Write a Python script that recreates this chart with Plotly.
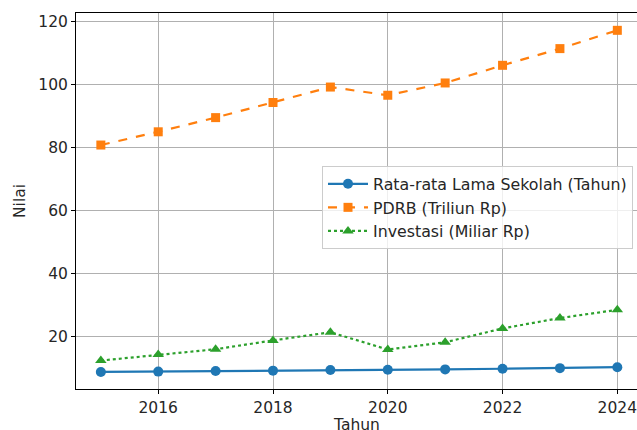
import plotly.graph_objects as go

tahun = [2015, 2016, 2017, 2018, 2019, 2020, 2021, 2022, 2023, 2024]
rata_lama_sekolah = [8.7, 8.8, 9.0, 9.1, 9.3, 9.4, 9.5, 9.7, 9.9, 10.2]
pdrb = [80.7, 84.9, 89.4, 94.2, 99.1, 96.5, 100.4, 106.0, 111.3, 117.1]
investasi = [12.3, 14.2, 15.9, 18.7, 21.3, 15.8, 18.1, 22.5, 25.8, 28.4]

x_ticks = [2016, 2018, 2020, 2022, 2024]
y_ticks = [20, 40, 60, 80, 100, 120]

fig = go.Figure()
fig.add_trace(go.Scatter(
    x=tahun, y=rata_lama_sekolah, mode="lines+markers",
    name="Rata-rata Lama Sekolah (Tahun)",
    line=dict(color="#1f77b4", width=2.2),
    marker=dict(symbol="circle", size=10, color="#1f77b4"),
))
fig.add_trace(go.Scatter(
    x=tahun, y=pdrb, mode="lines+markers",
    name="PDRB (Triliun Rp)",
    line=dict(color="#ff7f0e", width=2.2, dash="dash"),
    marker=dict(symbol="square", size=9, color="#ff7f0e"),
))
fig.add_trace(go.Scatter(
    x=tahun, y=investasi, mode="lines+markers",
    name="Investasi (Miliar Rp)",
    line=dict(color="#2ca02c", width=2.2, dash="dot"),
    marker=dict(symbol="triangle-up", size=10, color="#2ca02c"),
))

font = "DejaVu Sans, sans-serif"
fig.update_layout(
    width=637, height=430,
    margin=dict(l=76, r=0, t=13, b=41),
    paper_bgcolor="white", plot_bgcolor="white",
    font=dict(family=font, size=15.5, color="#262626"),
    showlegend=True,
    legend=dict(
        x=0.4385, y=0.593, xanchor="left", yanchor="top",
        bgcolor="rgba(255,255,255,0.8)", bordercolor="#cccccc", borderwidth=1,
        font=dict(family=font, size=15.8, color="#262626"),
        tracegroupgap=0, itemwidth=40,
    ),
    xaxis=dict(
        range=[2014.567, 2024.343], tickvals=x_ticks, ticktext=[str(v) for v in x_ticks],
        showgrid=True, gridcolor="#b0b0b0", gridwidth=1,
        showline=True, linecolor="black", linewidth=1, mirror=True,
        ticks="outside", ticklen=4, tickcolor="black", zeroline=False,
        tickfont=dict(size=15.5), ticklabeloverflow="allow", automargin=False,
    ),
    yaxis=dict(
        range=[3.28, 122.6], tickvals=y_ticks, ticktext=[str(v) for v in y_ticks],
        showgrid=True, gridcolor="#b0b0b0", gridwidth=1,
        showline=True, linecolor="black", linewidth=1,
        ticks="outside", ticklen=4, tickcolor="black", zeroline=False,
        tickfont=dict(size=15.5), automargin=False,
        title=dict(text="Nilai", font=dict(size=15.5), standoff=8),
    ),
    annotations=[dict(
        text="Tahun", xref="paper", yref="paper", x=0.5, y=-0.096,
        xanchor="center", yanchor="middle", showarrow=False,
        font=dict(family=font, size=15.5, color="#262626"),
    )],
)

fig.write_html("out.html", config={"displayModeBar": False},
               post_script="document.body.style.margin='0';")
